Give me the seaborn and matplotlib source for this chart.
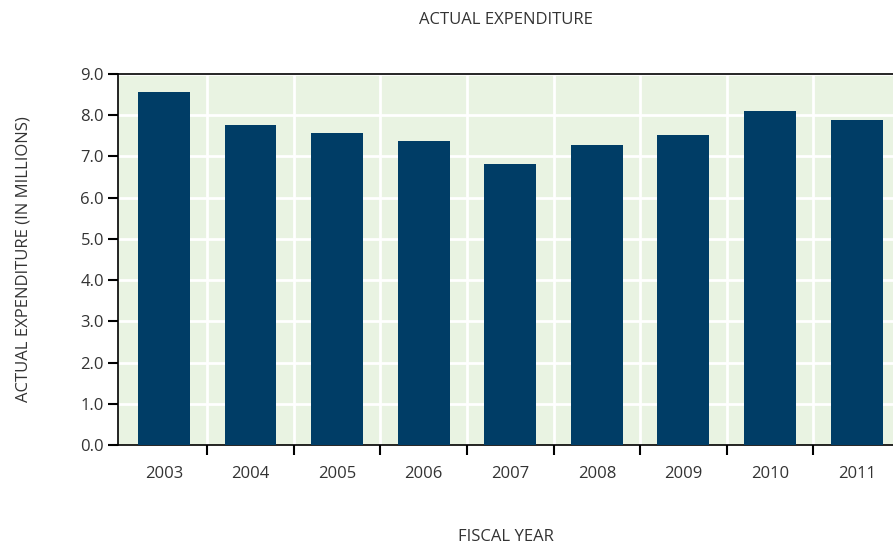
import matplotlib
matplotlib.use("Agg")
import matplotlib.pyplot as plt
import seaborn as sns
import numpy as np
import pandas as pd

# === DATA ===
years = ["2003", "2004", "2005", "2006", "2007", "2008", "2009", "2010", "2011"]
expenditure = [8.57, 7.77, 7.57, 7.38, 6.82, 7.28, 7.52, 8.11, 7.89]
y_ticks = [0, 1, 2, 3, 4, 5, 6, 7, 8, 9]

BAR_COLOR = "#003D66"
BG_COLOR = "#E9F3E2"
TEXT_COLOR = "#333333"
FS = 12

sns.set_theme(style="white")
plt.rcParams["font.family"] = ["Open Sans", "DejaVu Sans"]

df = pd.DataFrame({"year": years, "value": expenditure})

fig = plt.figure(figsize=(8.93, 5.46), dpi=100)
ax = fig.add_axes([118 / 893, 1 - 445 / 546, 1 - 118 / 893, (445 - 74) / 546])
ax.set_facecolor(BG_COLOR)

sns.barplot(data=df, x="year", y="value", color=BAR_COLOR, saturation=1,
            width=0.6, linewidth=0, ax=ax, zorder=3)

ax.set_xlim(-0.53, len(years) - 1 + 0.42)
ax.set_ylim(0, 9)

# grid: horizontal at y ticks, vertical between bars
ax.set_yticks(y_ticks)
ax.set_yticklabels([f"{v:.1f}" for v in y_ticks])
bounds = np.arange(len(years) - 1) + 0.5
ax.set_xticks(bounds, minor=True)
ax.grid(False)
for y in y_ticks[1:]:
    ax.axhline(y, color="white", lw=2, zorder=1)
for b in bounds:
    ax.axvline(b, color="white", lw=2, zorder=1)

ax.tick_params(axis="x", which="major", length=0, pad=15, labelsize=FS, colors=TEXT_COLOR)
ax.tick_params(axis="x", which="minor", length=7, width=1.5, color="black", direction="out", bottom=True)
ax.tick_params(axis="y", which="major", length=7, width=1.5, color="black", direction="out",
               left=True, labelsize=FS, labelcolor=TEXT_COLOR, pad=3)

for side in ["left", "bottom", "top"]:
    ax.spines[side].set_visible(True)
    ax.spines[side].set_color("black")
    ax.spines[side].set_linewidth(1.2)
ax.spines["right"].set_visible(False)

ax.set_xlabel("FISCAL YEAR", fontsize=FS, color=TEXT_COLOR)
ax.xaxis.set_label_coords(0.5, -0.227)
ax.set_ylabel("ACTUAL EXPENDITURE (IN MILLIONS)", fontsize=FS, color=TEXT_COLOR)
ax.yaxis.set_label_coords(-0.112, 0.5)
ax.set_title("ACTUAL EXPENDITURE", fontsize=FS, color=TEXT_COLOR, y=1.111)

fig.savefig("out.png", dpi=100)
